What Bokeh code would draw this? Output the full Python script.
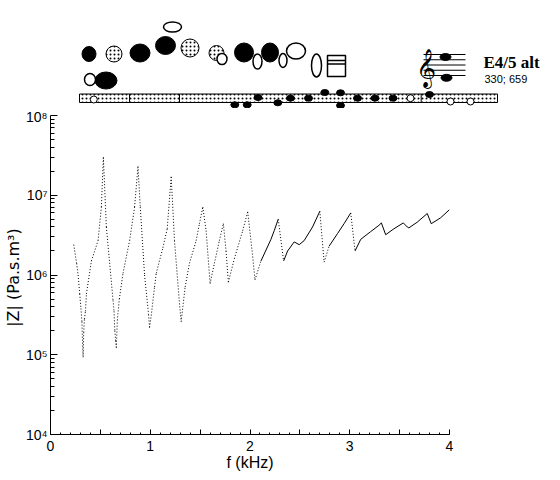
import numpy as np
from bokeh.plotting import figure
from bokeh.models import Range1d, FixedTicker, CustomJSTickFormatter, Label
from bokeh.embed import file_html
from bokeh.resources import INLINE

# ---------------- data: impedance spectrum ----------------
freq_khz = [0.233, 0.262, 0.277, 0.293, 0.305, 0.315, 0.322, 0.327, 0.333, 0.340,
            0.350, 0.360, 0.41, 0.477, 0.51, 0.53, 0.56, 0.627, 0.637, 0.645,
            0.653, 0.66, 0.67, 0.69, 0.727, 0.793, 0.843, 0.877, 0.9, 0.943,
            0.983, 0.993, 1.01, 1.043, 1.06, 1.127, 1.17, 1.21, 1.243, 1.293,
            1.31, 1.327, 1.35, 1.393, 1.46, 1.493, 1.527, 1.56, 1.6, 1.643,
            1.693, 1.733, 1.76, 1.783, 1.843, 1.927, 1.977, 2.027, 2.05, 2.11,
            2.21, 2.243, 2.283, 2.337, 2.377, 2.443, 2.493, 2.543, 2.627, 2.70,
            2.743, 2.793, 2.877, 2.943, 3.01, 3.053, 3.11, 3.21, 3.293, 3.317,
            3.36, 3.443, 3.537, 3.577, 3.593, 3.677, 3.777, 3.817, 3.91, 4.0]
impedance = [2.4e6, 1.4e6, 1.0e6, 5.8e5, 3.8e5, 2.6e5, 1.3e5, 9.3e4, 1.9e5, 2.8e5,
             3.5e5, 5.8e5, 1.5e6, 2.7e6, 7.1e6, 3.0e7, 4.0e6, 4.8e5, 3.5e5, 2.0e5,
             1.5e5, 1.23e5, 2.7e5, 5.0e5, 1.05e6, 2.7e6, 7.1e6, 2.3e7, 7.1e6, 1.0e6,
             3.2e5, 2.2e5, 3.1e5, 7.1e5, 1.05e6, 2.2e6, 3.8e6, 1.7e7, 2.7e6, 4.4e5,
             2.6e5, 4.0e5, 7.1e5, 1.4e6, 2.7e6, 4.4e6, 7.1e6, 3.6e6, 7.8e5, 1.4e6,
             2.7e6, 4.4e6, 2.0e6, 8.1e5, 1.6e6, 3.6e6, 6.2e6, 1.7e6, 8.7e5, 1.5e6,
             2.8e6, 3.6e6, 5.0e6, 1.5e6, 2.0e6, 2.6e6, 2.4e6, 2.7e6, 4.0e6, 6.3e6,
             1.45e6, 2.3e6, 3.3e6, 4.4e6, 6.0e6, 2.0e6, 2.8e6, 3.5e6, 4.2e6, 4.5e6,
             3.2e6, 3.8e6, 4.5e6, 4.0e6, 3.9e6, 4.6e6, 5.9e6, 4.4e6, 5.2e6, 6.6e6]

x_major_ticks = [0, 0.5, 1, 1.5, 2, 2.5, 3, 3.5, 4]
x_minor_ticks = [i / 10 for i in range(41)]
y_major_ticks = [1e4, 1e5, 1e6, 1e7, 1e8]
y_minor_ticks = [k * 10 ** e for e in range(4, 8) for k in range(2, 10)]

x_label = "f (kHz)"
y_label = "|Z| (Pa.s.m\u00b3)"
note_name = "E4/5 alt"
note_freqs = "330; 659"

# ---------------- fingering diagram (page-pixel layout) ----------------
keys_closed_x = [88.5, 139.5, 165, 243.5, 269.5, 105.5]
keys_closed_y = [53.5, 52.5, 45, 52, 52, 80]
keys_closed_w = [14, 20, 20, 19, 17, 22]
keys_closed_h = [15, 18, 18, 19, 19, 17]
keys_half_x = [113.5, 189.5, 216]
keys_half_y = [53.5, 47.5, 52.5]
keys_half_d = [16, 18, 15]
keys_open_x = [172, 221.5, 257, 282.5, 295.5, 316, 89.5]
keys_open_y = [26.5, 58.5, 61, 60, 50.5, 65, 79]
keys_open_w = [18, 10, 9, 8, 19, 10, 11]
keys_open_h = [10, 11, 15, 14, 16, 23, 12]
bar_closed_x = [234.3, 246.7, 257.5, 277.3, 290, 308, 324.3, 340, 340, 357, 374.5, 392.5, 429]
bar_closed_y = [104.3, 104.3, 97, 102.3, 97.7, 97.7, 92, 92.3, 105, 97.7, 97.7, 97.7, 94]
bar_open_x = [93.3, 410, 450, 470]
bar_open_y = [99, 97.7, 101, 101]
staff_y = [54, 59.25, 64.5, 69.75, 75]
notes_x = [445, 446]
notes_y = [56.5, 77.3]

# ---------------- top figure: fingering ----------------
top = figure(width=552, height=108, x_range=Range1d(0, 552), y_range=Range1d(108, 0),
             output_backend="svg", toolbar_location=None,
             x_axis_location=None, y_axis_location=None,
             min_border=0, min_border_left=0, min_border_right=0,
             min_border_top=0, min_border_bottom=0)
top.outline_line_color = None
top.grid.visible = False

# bar
top.quad(left=[79], right=[497], top=[93.5], bottom=[102], fill_color="white",
         hatch_pattern="dot", hatch_scale=4, hatch_color="black", hatch_weight=1,
         line_color="black", line_width=1)
top.segment(x0=[129, 179, 420.7], y0=[93.5] * 3, x1=[129, 179, 420.7], y1=[102] * 3,
            line_color="black", line_width=1)
top.ellipse(x=bar_closed_x, y=bar_closed_y, width=8, height=6,
            width_units="screen", height_units="screen",
            fill_color="black", line_color="black")
top.ellipse(x=bar_open_x, y=bar_open_y, width=7, height=7,
            width_units="screen", height_units="screen",
            fill_color="white", line_color="black")

# keys
top.ellipse(x=keys_half_x, y=keys_half_y, width=keys_half_d, height=keys_half_d,
            width_units="screen", height_units="screen",
            fill_color="white", hatch_pattern="dot", hatch_scale=4, hatch_color="black",
            hatch_weight=1, line_color="black", line_width=1)
top.ellipse(x=keys_closed_x, y=keys_closed_y, width=keys_closed_w, height=keys_closed_h,
            width_units="screen", height_units="screen",
            fill_color="black", line_color="black")
top.ellipse(x=keys_open_x, y=keys_open_y, width=keys_open_w, height=keys_open_h,
            width_units="screen", height_units="screen",
            fill_color="white", line_color="black", line_width=1.5)

# box symbol
top.quad(left=[327], right=[345], top=[55], bottom=[76], fill_color=None,
         line_color="black", line_width=1.5)
top.segment(x0=[327, 327], y0=[60, 63.5], x1=[345, 345], y1=[60, 63.5],
            line_color="black", line_width=1.5)

# staff
top.segment(x0=[423] * 5, y0=staff_y, x1=[465] * 5, y1=staff_y, line_color="black", line_width=1)
top.ellipse(x=notes_x, y=notes_y, width=11, height=7, width_units="screen",
            height_units="screen", fill_color="black", line_color="black")
top.add_layout(Label(x=425, y=66, text="\U0001D11E", text_font="DejaVu Sans",
                     text_font_size="34px", text_align="center", text_baseline="middle",
                     text_color="black"))
top.add_layout(Label(x=483, y=62, text=note_name, text_font="Liberation Serif",
                     text_font_style="bold", text_font_size="17px", text_align="left",
                     text_baseline="alphabetic", text_color="black"))
top.add_layout(Label(x=484, y=78, text=note_freqs, text_font="Liberation Sans",
                     text_font_size="11px", text_align="left",
                     text_baseline="alphabetic", text_color="black"))

# ---------------- bottom figure: impedance ----------------
p = figure(width=500, height=370, x_range=Range1d(0, 4), y_range=Range1d(1e4, 1e8),
           y_axis_type="log", output_backend="svg", toolbar_location=None,
           min_border_left=49, min_border_right=51, min_border_top=7, min_border_bottom=44)
p.outline_line_color = None
p.grid.visible = False

p.xaxis.ticker = FixedTicker(ticks=x_major_ticks, minor_ticks=x_minor_ticks)
p.xaxis.formatter = CustomJSTickFormatter(
    code="return Number.isInteger(tick) ? tick.toFixed(0) : '';")
p.yaxis.ticker = FixedTicker(ticks=y_major_ticks, minor_ticks=y_minor_ticks)
p.yaxis.formatter = CustomJSTickFormatter(code="""
const sup = {"0":"\u2070","1":"\u00b9","2":"\u00b2","3":"\u00b3","4":"\u2074","5":"\u2075",
             "6":"\u2076","7":"\u2077","8":"\u2078","9":"\u2079","-":"\u207b"};
const e = Math.round(Math.log10(tick));
return "10" + String(e).split("").map(c => sup[c]).join("");
""")
for ax in (p.xaxis, p.yaxis):
    ax.axis_line_color = "black"
    ax.major_tick_line_color = "black"
    ax.minor_tick_line_color = "black"
    ax.major_tick_out = 0
    ax.minor_tick_out = 0
    ax.major_label_text_font = "Liberation Sans"
    ax.major_label_text_font_size = "14px"
    ax.major_label_text_color = "black"
    ax.axis_label_text_color = "black"
    ax.axis_label_text_font_style = "normal"
    ax.axis_label_standoff = 0
p.xaxis.major_label_standoff = 6
p.yaxis.major_label_standoff = 3
p.xaxis.major_tick_in = 5
p.xaxis.minor_tick_in = 2
p.yaxis.major_tick_in = 7
p.yaxis.minor_tick_in = 4
p.xaxis.axis_label = x_label
p.xaxis.axis_label_text_font = "Liberation Sans"
p.xaxis.axis_label_text_font_size = "16px"
# one non-breaking space nudges the rotated label down, as in the original
p.yaxis.axis_label = y_label + "\u00a0"
p.yaxis.axis_label_text_font = "DejaVu Sans"
p.yaxis.axis_label_text_font_size = "16px"

fz = np.array(freq_khz)
zz = np.array(impedance)
lz = np.log10(zz)
px_per_khz = 100.0
px_per_dec = 319.0 / 4.0
slope = np.abs(np.diff(lz) * px_per_dec / (np.diff(fz) * px_per_khz))
steep = slope > 3.0
x0, x1, y0, y1 = fz[:-1], fz[1:], zz[:-1], zz[1:]
p.segment(x0=x0[steep], y0=y0[steep], x1=x1[steep], y1=y1[steep],
          line_color="black", line_width=1, line_dash="1 2")
p.segment(x0=x0[~steep], y0=y0[~steep], x1=x1[~steep], y1=y1[~steep],
          line_color="black", line_width=1)

with open("out.html", "w", encoding="utf-8") as fh:
    fh.write(file_html([top, p], INLINE))
